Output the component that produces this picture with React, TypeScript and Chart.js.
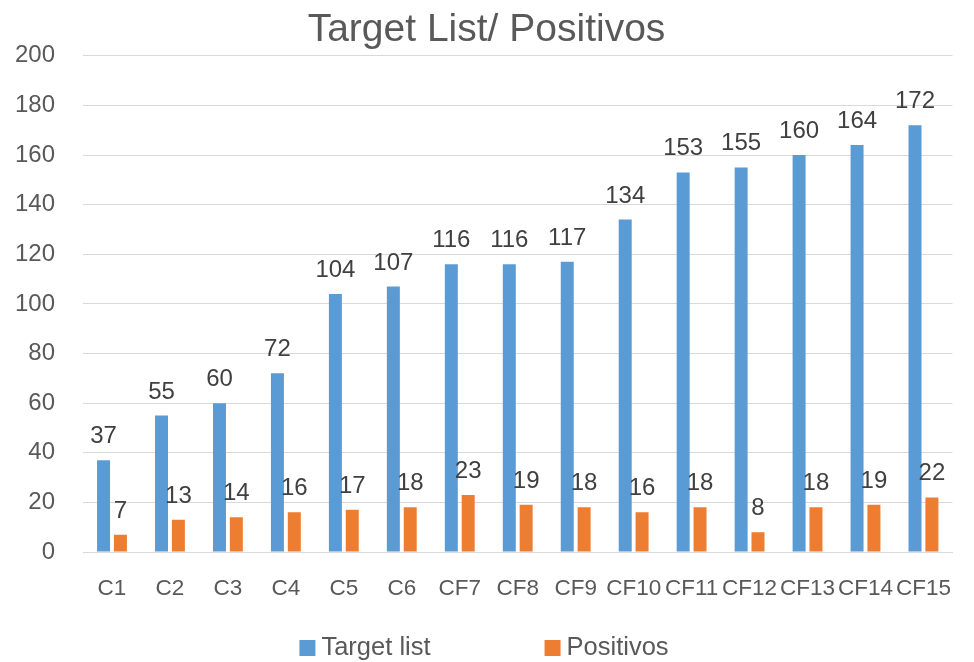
import React, { useEffect, useRef } from "react";
import { Chart, registerables } from "chart.js";

Chart.register(...registerables);

const categories = ["C1", "C2", "C3", "C4", "C5", "C6", "CF7", "CF8", "CF9", "CF10", "CF11", "CF12", "CF13", "CF14", "CF15"];
const targetList = [37, 55, 60, 72, 104, 107, 116, 116, 117, 134, 153, 155, 160, 164, 172];
const positivos = [7, 13, 14, 16, 17, 18, 23, 19, 18, 16, 18, 8, 18, 19, 22];
const seriesNames = ["Target list", "Positivos"];
const chartTitle = "Target List/ Positivos";

const FONT = "'Liberation Sans', Arial, sans-serif";

const dataLabels = {
  id: "dataLabels",
  afterDatasetsDraw(chart: any) {
    const ctx = chart.ctx;
    ctx.save();
    ctx.font = `24px ${FONT}`;
    ctx.fillStyle = "#404040";
    ctx.textAlign = "center";
    ctx.textBaseline = "alphabetic";
    chart.data.datasets.forEach((ds: any, i: number) => {
      const meta = chart.getDatasetMeta(i);
      meta.data.forEach((el: any, j: number) => {
        ctx.fillText(String(ds.data[j]), el.x, el.y - 17);
      });
    });
    ctx.restore();
  },
};

const customLegend = {
  id: "customLegend",
  afterDraw(chart: any) {
    const ctx = chart.ctx;
    ctx.save();
    ctx.font = `25.5px ${FONT}`;
    const box = 16;
    const gapText = 6;
    const gapItems = 114;
    const items = chart.data.datasets.map((ds: any) => ({
      text: ds.label,
      color: ds.backgroundColor,
      w: ctx.measureText(ds.label).width,
    }));
    const total = items.reduce((s: number, it: any) => s + box + gapText + it.w, 0) + gapItems * (items.length - 1);
    let x = chart.width / 2 - total / 2 - 3;
    const cy = 648;
    items.forEach((it: any) => {
      ctx.fillStyle = it.color;
      ctx.fillRect(x, cy - box / 2, box, box);
      x += box + gapText;
      ctx.fillStyle = "#595959";
      ctx.textAlign = "left";
      ctx.textBaseline = "middle";
      ctx.fillText(it.text, x, cy);
      x += it.w + gapItems;
    });
    ctx.restore();
  },
};

export default function App() {
  const ref = useRef<HTMLCanvasElement>(null);
  useEffect(() => {
    if (!ref.current) return;
    const chart = new Chart(ref.current, {
      type: "bar",
      data: {
        labels: categories,
        datasets: [
          { label: seriesNames[0], data: targetList, backgroundColor: "#5B9BD5", categoryPercentage: 0.582, barPercentage: 0.77 },
          { label: seriesNames[1], data: positivos, backgroundColor: "#ED7D31", categoryPercentage: 0.582, barPercentage: 0.77 },
        ],
      },
      options: {
        responsive: true,
        maintainAspectRatio: false,
        animation: false,
        layout: { padding: { left: 0, right: 1, top: 0, bottom: 37 } },
        plugins: {
          legend: { display: false },
          tooltip: { enabled: false },
          title: {
            display: true,
            text: chartTitle,
            color: "#595959",
            font: { family: FONT, size: 39, weight: "normal" },
            padding: { top: 7, bottom: 2 },
          },
        },
        scales: {
          x: {
            grid: { display: false, drawTicks: false },
            border: { display: true, color: "#D9D9D9", width: 1 },
            ticks: { color: "#595959", font: { family: FONT, size: 22.5 }, padding: 23, maxRotation: 0, autoSkip: false },
          },
          y: {
            min: 0,
            max: 200,
            grid: { color: "#D9D9D9", lineWidth: 1, drawTicks: false },
            border: { display: false },
            ticks: { stepSize: 20, color: "#595959", font: { family: FONT, size: 24 }, padding: 28 },
            afterFit(scale: any) {
              scale.width = 83;
            },
          },
        },
      },
      plugins: [dataLabels, customLegend],
    });
    return () => chart.destroy();
  }, []);
  return (
    <div style={{ position: "absolute", left: 0, top: 0, width: 974, height: 662, background: "#fff" }}>
      <canvas ref={ref} />
    </div>
  );
}
